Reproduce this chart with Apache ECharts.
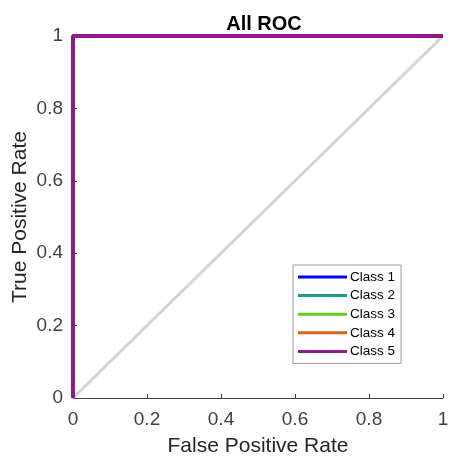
<!DOCTYPE html>
<html>
<head>
<meta charset="utf-8">
<script src="https://cdn.jsdelivr.net/npm/echarts@6/dist/echarts.min.js"></script>
<style>
  html, body { margin: 0; padding: 0; background: #fff; }
  #chart { width: 450px; height: 463px; }
</style>
</head>
<body>
<div id="chart"></div>
<script>
var classNames = ['Class 1', 'Class 2', 'Class 3', 'Class 4', 'Class 5'];
var classColors = ['#0000ff', '#1a9b86', '#5ccf1c', '#d2641e', '#8f1a8c'];
// every class reaches a perfect ROC: (0,0) -> (0,1) -> (1,1)
var fpr = [0, 0, 1];
var tpr = [0, 1, 1];
var chanceX = [0, 1];
var chanceY = [0, 1];

var chart = echarts.init(document.getElementById('chart'));

function pairs(xs, ys) {
    var out = [];
    for (var i = 0; i < xs.length; i++) out.push([xs[i], ys[i]]);
    return out;
}

var series = [{
    name: 'chance',
    type: 'line',
    data: pairs(chanceX, chanceY),
    symbol: 'none',
    lineStyle: { color: '#d3d3d3', width: 3 },
    itemStyle: { color: '#d3d3d3' },
    silent: true,
    z: 1
}];
classNames.forEach(function (name, i) {
    series.push({
        name: name,
        type: 'line',
        data: pairs(fpr, tpr),
        symbol: 'none',
        lineStyle: { color: classColors[i], width: 4 },
        itemStyle: { color: classColors[i] },
        z: 2 + i
    });
});

var labelStyle = { color: '#404040', fontSize: 19, fontFamily: 'Liberation Sans' };
var nameStyle = { fontSize: 21, color: '#262626', fontFamily: 'Liberation Sans' };

var option = {
    animation: false,
    title: {
        text: 'All ROC',
        left: 259,
        textAlign: 'center',
        top: 9,
        textStyle: { fontSize: 20, fontWeight: 'bold', color: '#000', fontFamily: 'Liberation Sans' }
    },
    grid: { left: 73, right: 7, top: 36, bottom: 65, outerBoundsMode: 'none', containLabel: false },
    legend: {
        data: classNames,
        orient: 'vertical',
        left: 293,
        top: 265,
        padding: [5, 6, 5, 5],
        itemGap: 4.6,
        itemWidth: 49,
        itemHeight: 3,
        icon: 'rect',
        borderColor: '#999',
        borderWidth: 1,
        backgroundColor: '#fff',
        textStyle: { fontSize: 13.5, color: '#000', fontFamily: 'Liberation Sans', padding: [0, 0, 0, -2] }
    },
    xAxis: {
        type: 'value',
        min: 0, max: 1, interval: 0.2,
        name: 'False Positive Rate',
        nameLocation: 'middle',
        nameGap: 38,
        nameMoveOverlap: false,
        nameTextStyle: nameStyle,
        axisLine: { lineStyle: { color: '#404040', width: 1 } },
        axisTick: { inside: true, length: 4, lineStyle: { color: '#404040' } },
        axisLabel: Object.assign({ margin: 12 }, labelStyle),
        splitLine: { show: false }
    },
    yAxis: {
        type: 'value',
        min: 0, max: 1, interval: 0.2,
        name: 'True Positive Rate',
        nameLocation: 'middle',
        nameGap: 42,
        nameMoveOverlap: false,
        nameTextStyle: nameStyle,
        axisLine: { lineStyle: { color: '#404040', width: 1 } },
        axisTick: { inside: true, length: 4, lineStyle: { color: '#404040' } },
        axisLabel: Object.assign({ margin: 10 }, labelStyle),
        splitLine: { show: false }
    },
    series: series
};

chart.setOption(option);
</script>
</body>
</html>
